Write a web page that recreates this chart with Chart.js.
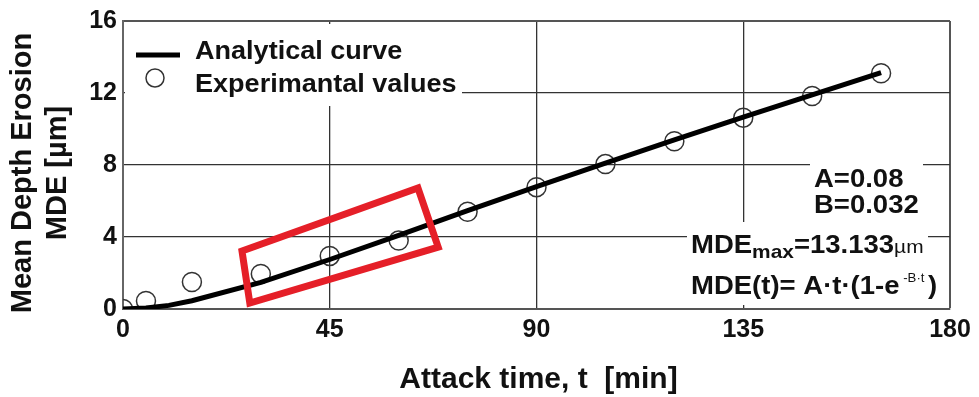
<!DOCTYPE html>
<html>
<head>
<meta charset="utf-8">
<script src="https://cdn.jsdelivr.net/npm/chart.js@4.4.1/dist/chart.umd.min.js"></script>
<style>
html, body { margin: 0; padding: 0; background: #fff; }
#wrap { width: 979px; height: 397px; }
</style>
</head>
<body>
<div id="wrap"><canvas id="chart" width="979" height="397"></canvas></div>
<script>
const curveTimes = [0, 5, 10, 15, 30, 45, 60, 75, 90, 105, 120, 135, 150, 165];
const curveMde = [0, 0.06, 0.2, 0.46, 1.48, 2.75, 4.09, 5.46, 6.8, 8.11, 9.39, 10.66, 11.9, 13.13];
const expTimes = [0, 5, 15, 30, 45, 60, 75, 90, 105, 120, 135, 150, 165];
const expMde = [0, 0.45, 1.5, 1.95, 2.95, 3.8, 5.4, 6.77, 8.05, 9.32, 10.63, 11.83, 13.1];
const xTicks = [0, 45, 90, 135, 180];
const yTicks = [0, 4, 8, 12, 16];
// Recuadro rojo (esquinas en coordenadas de datos)
const redBoxTimes = [25.9, 64.2, 68.6, 27.6];
const redBoxMde = [3.22, 6.72, 3.44, 0.33];

const FONT = '"Liberation Sans", Arial, sans-serif';
const toPoints = (xs, ys) => xs.map((x, i) => ({ x, y: ys[i] }));

// Texto con un leve estiramiento horizontal, devuelve el ancho dibujado
function drawText(ctx, txt, x, y, font, sx) {
    ctx.save();
    ctx.font = font;
    ctx.translate(x, y);
    ctx.scale(sx, 1);
    ctx.fillText(txt, 0, 0);
    const w = ctx.measureText(txt).width * sx;
    ctx.restore();
    return w;
}

const overlayPlugin = {
    id: 'overlay',
    beforeDatasetsDraw(chart) {
        const { ctx, chartArea: a } = chart;
        ctx.save();
        ctx.fillStyle = '#fff';
        // fondo blanco de leyenda y anotaciones (tapan la rejilla)
        ctx.fillRect(a.left + 2, a.top + 3, 337, 82);
        ctx.fillRect(a.right - 140, a.bottom - 151, 113, 64);
        ctx.fillRect(a.right - 263, a.bottom - 87, 241, 83);
        ctx.restore();
    },
    afterDatasetsDraw(chart) {
        const { ctx, chartArea: a, scales } = chart;
        ctx.save();

        // Recuadro rojo
        ctx.beginPath();
        redBoxTimes.forEach((t, i) => {
            const px = scales.x.getPixelForValue(t);
            const py = scales.y.getPixelForValue(redBoxMde[i]);
            if (i === 0) ctx.moveTo(px, py); else ctx.lineTo(px, py);
        });
        ctx.closePath();
        ctx.strokeStyle = '#e51f28';
        ctx.lineWidth = 7;
        ctx.lineJoin = 'miter';
        ctx.stroke();

        // Leyenda
        ctx.strokeStyle = '#000';
        ctx.lineWidth = 5;
        ctx.beginPath();
        ctx.moveTo(a.left + 13, a.top + 34);
        ctx.lineTo(a.left + 57, a.top + 34);
        ctx.stroke();
        ctx.lineWidth = 1.5;
        ctx.strokeStyle = '#333';
        ctx.beginPath();
        ctx.arc(a.left + 32, a.top + 57, 9, 0, Math.PI * 2);
        ctx.stroke();

        ctx.fillStyle = '#111';
        ctx.textAlign = 'left';
        ctx.textBaseline = 'alphabetic';
        drawText(ctx, 'Analytical curve', a.left + 72, a.top + 38, 'bold 26px ' + FONT, 1.04);
        drawText(ctx, 'Experimantal values', a.left + 72, a.top + 71, 'bold 26px ' + FONT, 1.04);

        // Anotaciones
        const SX = 1.1;
        const x0 = a.right - 136;
        drawText(ctx, 'A=0.08', x0, a.bottom - 122, 'bold 25px ' + FONT, SX);
        drawText(ctx, 'B=0.032', x0, a.bottom - 96, 'bold 25px ' + FONT, SX);

        let x = a.right - 259;
        let y = a.bottom - 56;
        const part = (txt, font, dy) => { x += drawText(ctx, txt, x, y + dy, font, SX); };
        part('MDE', 'bold 25px ' + FONT, 0);
        part('max', 'bold 19px ' + FONT, 5);
        part('=13.133', 'bold 25px ' + FONT, 0);
        part('\u00b5m', '19px ' + FONT, 0);

        x = a.right - 259;
        y = a.bottom - 15;
        part('MDE(t)= A\u00b7t\u00b7(1-e', 'bold 25px ' + FONT, 0);
        part(' -B\u00b7t ', '12px ' + FONT, -12);
        part(')', 'bold 25px ' + FONT, 0);

        ctx.restore();
    },
    afterDraw(chart) {
        const { ctx, chartArea: a } = chart;
        ctx.save();
        ctx.fillStyle = '#111';
        ctx.textAlign = 'center';
        ctx.textBaseline = 'middle';
        ctx.font = 'bold 30px ' + FONT;
        ctx.fillText('Attack time, t  [min]', (a.left + a.right) / 2 + 2, a.bottom + 71);

        ctx.font = 'bold 29px ' + FONT;
        ctx.translate(a.left - 100, 173);
        ctx.rotate(-Math.PI / 2);
        ctx.fillText('Mean Depth Erosion', 0, 0);
        ctx.fillText('MDE [\u00b5m]', 0, 35);
        ctx.restore();
    }
};

const edgeWidth = (c, max) => (c.tick && c.tick.value === max ? 2 : 1.3);
const edgeColor = (c, max) => (c.tick && c.tick.value === max ? '#555' : '#333');

new Chart(document.getElementById('chart'), {
    type: 'scatter',
    data: {
        datasets: [
            {
                label: 'Analytical curve',
                data: toPoints(curveTimes, curveMde),
                showLine: true,
                borderColor: '#000',
                borderWidth: 5,
                pointRadius: 0,
                tension: 0,
                order: 1
            },
            {
                label: 'Experimantal values',
                data: toPoints(expTimes, expMde),
                showLine: false,
                pointRadius: 9.5,
                pointBorderWidth: 1.5,
                pointBorderColor: '#333',
                pointBackgroundColor: 'rgba(0,0,0,0)',
                clip: 0,
                order: 2
            }
        ]
    },
    options: {
        responsive: false,
        animation: false,
        layout: { padding: { top: 16, right: 29, left: 0, bottom: 0 } },
        plugins: {
            legend: { display: false },
            tooltip: { enabled: false }
        },
        scales: {
            x: {
                type: 'linear',
                min: 0,
                max: 180,
                afterBuildTicks: s => { s.ticks = xTicks.map(v => ({ value: v })); },
                afterFit: s => { s.height = 88; },
                ticks: { font: { family: FONT, size: 25, weight: 'bold' }, color: '#111', padding: 6, maxRotation: 0 },
                grid: { color: c => edgeColor(c, 180), lineWidth: c => edgeWidth(c, 180), drawTicks: false },
                border: { color: '#555', width: 2 }
            },
            y: {
                type: 'linear',
                min: 0,
                max: 16,
                afterBuildTicks: s => { s.ticks = yTicks.map(v => ({ value: v })); },
                afterFit: s => { s.width = 123; },
                ticks: { font: { family: FONT, size: 25, weight: 'bold' }, color: '#111', padding: 6 },
                grid: { color: c => edgeColor(c, 16), lineWidth: c => edgeWidth(c, 16), drawTicks: false },
                border: { color: '#666', width: 2 }
            }
        }
    },
    plugins: [overlayPlugin]
});
</script>
</body>
</html>
